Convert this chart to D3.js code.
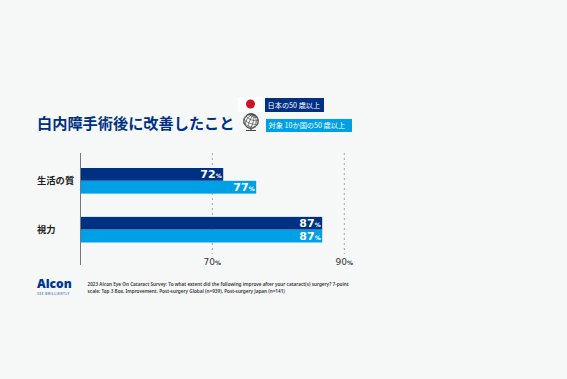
<!DOCTYPE html>
<html lang="ja">
<head>
<meta charset="UTF-8">
<title>白内障手術後に改善したこと</title>
<script src="https://d3js.org/d3.v7.min.js"></script>
<style>
  html, body { margin: 0; padding: 0; background: #f6f8f8; overflow: hidden; }
  text { font-family: "Noto Sans CJK JP", "Noto Sans", sans-serif; }
  .num { font-family: "DejaVu Sans", sans-serif; }
</style>
</head>
<body>
<div id="chart"></div>
<script>
const categories = ["生活の質", "視力"]
const seriesNames = ["日本の50 歳以上", "対象 10か国の50 歳以上"]
const japanValues = [72, 87]
const globalValues = [77, 87]
const tickValues = [70, 90]
const footnoteLines = [
  "2023 Alcon Eye On Cataract Survey: To what extent did the following improve after your cataract(s) surgery? 7-point",
  "scale; Top 3 Box, Improvement. Post-surgery Global (n=939), Post-surgery Japan (n=141)"
]

const dark = "#003082", light = "#00a0e6"

const svg = d3.select("#chart").append("svg")
  .attr("width", 567).attr("height", 379)

// 棒の比例尺
const x = d3.scaleLinear().domain([50, 90]).range([78, 342])
const baseValue = 50.3

const y = d3.scaleBand().domain(categories).range([168, 242.5]).paddingInner(0.476)
const rowH = y.bandwidth() / 2

// 点線の目盛（元の図と同じく棒より少し右にずれている）
const axis = svg.append("g").attr("transform", "translate(2.3,0)")
axis.selectAll("line").data(tickValues).join("line")
  .attr("x1", d => x(d)).attr("x2", d => x(d))
  .attr("y1", 153).attr("y2", 254)
  .attr("stroke", "#8a8f94").attr("stroke-width", 0.8).attr("stroke-dasharray", "2,3")
axis.selectAll("text").data(tickValues).join("text")
  .attr("class", "num")
  .attr("x", d => x(d)).attr("y", 264.5)
  .attr("text-anchor", "middle").attr("font-size", 9).attr("fill", "#333")
  .each(function(d) {
    d3.select(this).append("tspan").text(d)
    d3.select(this).append("tspan").attr("font-size", 6).attr("font-weight", "bold").text("%")
  })

// 棒
function drawBars(values, color, offset) {
  svg.append("g").selectAll("rect").data(values).join("rect")
    .attr("x", x(baseValue))
    .attr("y", (d, i) => y(categories[i]) + offset)
    .attr("width", d => x(d) - x(baseValue))
    .attr("height", rowH)
    .attr("fill", color)
  svg.append("g").selectAll("text").data(values).join("text")
    .attr("class", "num")
    .attr("x", d => x(d) - 1.5)
    .attr("y", (d, i) => y(categories[i]) + offset + rowH / 2 + 4)
    .attr("text-anchor", "end").attr("font-size", 11).attr("font-weight", "bold").attr("fill", "#fff")
    .each(function(d) {
      d3.select(this).append("tspan").text(d)
      d3.select(this).append("tspan").attr("font-size", 6).text("%")
    })
}
drawBars(japanValues, dark, 0)
drawBars(globalValues, light, rowH)

// 縦軸
svg.append("line").attr("x1", 80.5).attr("x2", 80.5).attr("y1", 153).attr("y2", 265)
  .attr("stroke", "#777").attr("stroke-width", 1)

svg.append("g").selectAll("text").data(categories).join("text")
  .attr("x", 37)
  .attr("y", d => y(d) + rowH + 3.2)
  .attr("font-size", 9.3).attr("font-weight", "bold").attr("fill", "#222")
  .text(d => d)

// タイトル
svg.append("text").attr("x", 37).attr("y", 129)
  .attr("font-size", 15.2).attr("font-weight", "bold").attr("fill", dark)
  .text("白内障手術後に改善したこと")

// 凡例
svg.append("rect").attr("x", 238).attr("y", 97).attr("width", 25).attr("height", 15).attr("fill", "#fff")
svg.append("circle").attr("cx", 250.5).attr("cy", 104).attr("r", 4.5).attr("fill", "#d0112b")

const globe = d3.geoOrthographic().scale(7.3).translate([251, 121]).rotate([20, -20, -20])
const globePath = d3.geoPath(globe)
const g = svg.append("g").attr("fill", "none").attr("stroke", "#444")
g.append("path").attr("d", globePath(d3.geoGraticule().step([30, 30])())).attr("stroke-width", 0.7)
g.append("path").attr("d", globePath({type: "Sphere"})).attr("stroke-width", 1)
g.append("path").attr("d", "M246 130.5H256M251 128.3V130.5").attr("stroke-width", 1.2)

const legend = [
  {x: 265, y: 98, w: 59, h: 14, fill: dark},
  {x: 266, y: 119, w: 86, h: 13, fill: light}
]
legend.forEach((l, i) => {
  svg.append("rect").attr("x", l.x).attr("y", l.y).attr("width", l.w).attr("height", l.h).attr("fill", l.fill)
  svg.append("text").attr("x", l.x + 2.5).attr("y", l.y + l.h / 2 + 2.6)
    .attr("font-size", 7.2).attr("fill", "#fff").text(seriesNames[i])
})

// ロゴ
svg.append("text").attr("x", 37).attr("y", 288)
  .attr("font-size", 12).attr("font-weight", 800).attr("fill", "#003595")
  .style("font-family", "'Open Sans'").text("Alcon")
svg.append("text").attr("x", 37).attr("y", 295)
  .attr("font-size", 3.2).attr("letter-spacing", 0.5).attr("fill", "#003595").text("SEE BRILLIANTLY")

// 脚注
svg.append("g").selectAll("text").data(footnoteLines).join("text")
  .attr("x", 87.5)
  .attr("y", (d, i) => 286 + i * 7.2)
  .attr("font-size", 4.68).attr("font-weight", 600).attr("fill", "#333")
  .style("font-family", "'Noto Sans'")
  .text(d => d)
</script>
</body>
</html>
